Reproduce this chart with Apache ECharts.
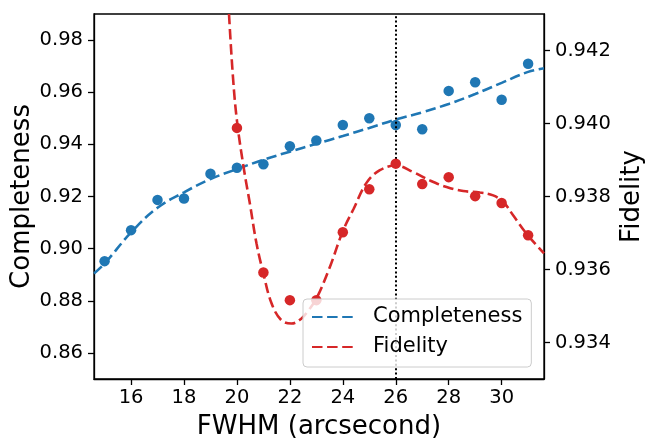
<!DOCTYPE html>
<html>
<head>
<meta charset="utf-8">
<script src="https://cdn.jsdelivr.net/npm/echarts@6/dist/echarts.min.js"></script>
<style>
html,body{margin:0;padding:0;background:#fff;}
#chart{width:645px;height:439px;}
</style>
</head>
<body>
<div id="chart"></div>
<script>
// ---- data ----
var fwhm = [15,16,17,18,19,20,21,22,23,24,25,26,27,28,29,30,31];
var completeness = [0.8952,0.9071,0.9187,0.9192,0.9287,0.9310,0.9324,0.9393,0.9415,0.9474,0.9500,0.9474,0.9458,0.9605,0.9638,0.9571,0.9709];
var fidelityFwhm = [20,21,22,23,24,25,26,27,28,29,30,31];
var fidelity = [0.93988,0.93592,0.93516,0.93516,0.93702,0.93820,0.93890,0.93834,0.93853,0.93801,0.93782,0.93694];

var compFitX = [14.6,15,16,17,18,19,20,21,22,23,24,25,26,27,28,29,30,31,31.6];
var compFitY = [0.8905,0.8943,0.9062,0.9157,0.9216,0.9267,0.9305,0.9341,0.9372,0.9402,0.9432,0.9463,0.9495,0.9523,0.9555,0.9593,0.9636,0.9678,0.9692];

var fidFitX = [19.70,19.85,20.00,20.25,20.49,20.74,21.00,21.31,21.68,22.06,22.44,22.70,23.00,23.50,24.00,24.40,24.90,25.40,26.00,26.66,27.29,27.92,28.55,29.18,29.68,30.06,30.44,30.94,31.60];
var fidFitY = [0.94300,0.94127,0.94008,0.93881,0.93780,0.93671,0.93589,0.93507,0.93461,0.93452,0.93466,0.93488,0.93520,0.93605,0.93705,0.93765,0.93838,0.93872,0.93885,0.93867,0.93844,0.93826,0.93815,0.93811,0.93803,0.93785,0.93748,0.93698,0.93644];

var xTicks = [16,18,20,22,24,26,28,30];
var leftTicks = [0.86,0.88,0.90,0.92,0.94,0.96,0.98];
var rightTicks = [0.934,0.936,0.938,0.940,0.942];
var bestFwhm = 26;

var seriesNames = ['Completeness','Fidelity'];
// ---- end data ----

function zip(a,b){ return a.map(function(v,i){ return [v,b[i]]; }); }

var BLUE = '#1f77b4', RED = '#d62728';
var FONT = 'DejaVu Sans';

var chart = echarts.init(document.getElementById('chart'), null, {renderer:'canvas'});

var tickStyle = {show:true, length:6, inside:false, lineStyle:{color:'#000', width:1.3}};
var axisLineStyle = {show:true, lineStyle:{color:'#000', width:1.3}};

var option = {
  animation:false,
  backgroundColor:'#fff',
  grid:{left:94, right:101, top:14, bottom:60, containLabel:false, outerBoundsMode:'none',
        show:true, borderColor:'#000', borderWidth:1.3, backgroundColor:'transparent'},
  textStyle:{fontFamily:FONT},
  legend:{
    data:seriesNames,
    orient:'vertical',
    left:303, top:299,
    z:20,
    itemWidth:43, itemHeight:22, itemGap:8,
    padding:[7,9,9,8],
    backgroundColor:'rgba(255,255,255,0.8)',
    borderColor:'#cccccc', borderWidth:1, borderRadius:4,
    itemStyle:{opacity:0},
    textStyle:{fontFamily:FONT, fontSize:21, color:'#000', padding:[0,0,0,13], lineHeight:22},
    selectedMode:false
  },
  xAxis:{
    type:'value', min:14.6, max:31.6,
    name:'FWHM (arcsecond)', nameLocation:'middle', nameGap:35, nameMoveOverlap:false,
    nameTextStyle:{fontFamily:FONT, fontSize:26, color:'#000'},
    axisLine:axisLineStyle,
    axisTick:Object.assign({customValues:xTicks}, tickStyle),
    axisLabel:{customValues:xTicks, fontFamily:FONT, fontSize:19.5, color:'#000', margin:9},
    splitLine:{show:false}
  },
  yAxis:[{
    type:'value', min:0.85, max:0.99, position:'left',
    name:'Completeness', nameLocation:'middle', nameGap:59, nameRotate:90, nameMoveOverlap:false,
    nameTextStyle:{fontFamily:FONT, fontSize:26, color:'#000'},
    axisLine:axisLineStyle,
    axisTick:Object.assign({customValues:leftTicks}, tickStyle),
    axisLabel:{customValues:leftTicks, fontFamily:FONT, fontSize:19.5, color:'#000', margin:11,
      formatter:function(v){return v.toFixed(2);}},
    splitLine:{show:false}
  },{
    type:'value', min:0.933, max:0.943, position:'right',
    name:'Fidelity', nameLocation:'middle', nameGap:75, nameRotate:90, nameMoveOverlap:false,
    nameTextStyle:{fontFamily:FONT, fontSize:26, color:'#000'},
    axisLine:axisLineStyle,
    axisTick:Object.assign({customValues:rightTicks}, tickStyle),
    axisLabel:{customValues:rightTicks, fontFamily:FONT, fontSize:19.5, color:'#000', margin:11,
      formatter:function(v){return v.toFixed(3);}},
    splitLine:{show:false}
  }],
  series:[
    {
      name:'Completeness data', type:'scatter', yAxisIndex:0,
      data:zip(fwhm, completeness), symbolSize:10.5,
      itemStyle:{color:BLUE, opacity:1}, z:3
    },
    {
      name:seriesNames[0], type:'line', yAxisIndex:0,
      data:zip(compFitX, compFitY), smooth:0.4, showSymbol:false, symbol:'none',
      lineStyle:{color:BLUE, width:2.6, type:[10.5,4.6]}, itemStyle:{color:BLUE}, z:4,
      markLine:{
        silent:true, symbol:['none','none'], label:{show:false},
        lineStyle:{color:'#000', width:2, type:[2,2.4]},
        data:[{xAxis:bestFwhm}], animation:false
      }
    },
    {
      name:'Fidelity data', type:'scatter', yAxisIndex:1,
      data:zip(fidelityFwhm, fidelity), symbolSize:10.5,
      itemStyle:{color:RED, opacity:1}, z:5
    },
    {
      name:seriesNames[1], type:'line', yAxisIndex:1,
      data:zip(fidFitX, fidFitY), smooth:0.4, showSymbol:false, symbol:'none', clip:true,
      lineStyle:{color:RED, width:2.6, type:[10.5,4.6]}, itemStyle:{color:RED}, z:6
    }
  ]
};
chart.setOption(option);
</script>
</body>
</html>
